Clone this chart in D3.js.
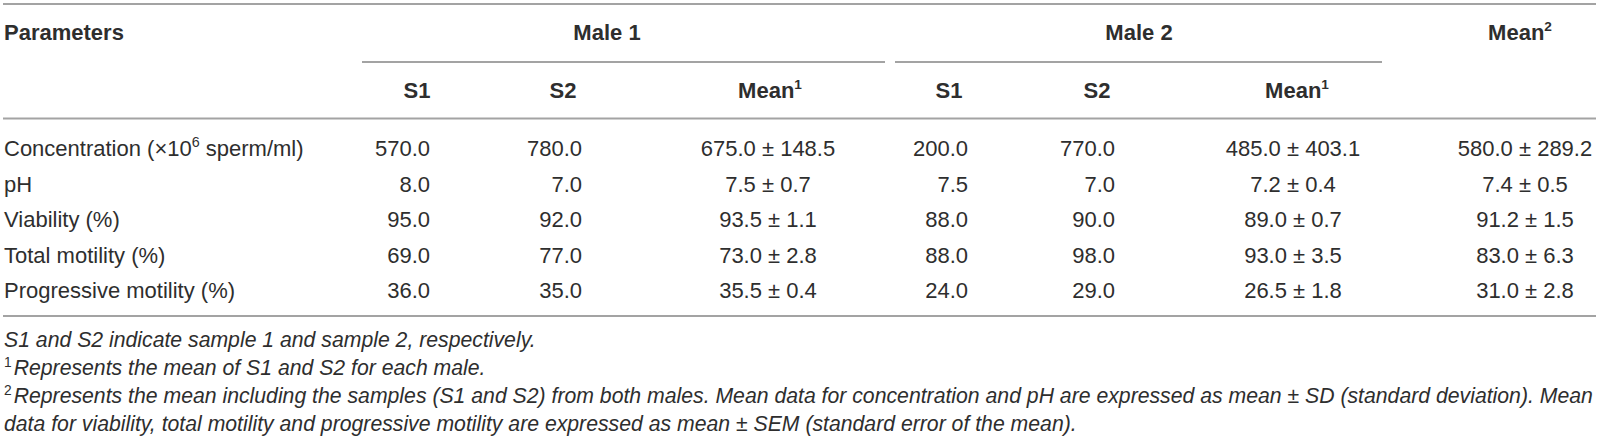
<!DOCTYPE html>
<html>
<head>
<meta charset="utf-8">
<script src="https://cdn.jsdelivr.net/npm/d3@7/dist/d3.min.js"></script>
<style>
  html, body { margin: 0; padding: 0; background: #fff; }
  svg { display: block; }
  text { font-family: "Liberation Sans", Arial, Helvetica, sans-serif; }
</style>
</head>
<body>
<svg id="tbl" width="1600" height="437"></svg>
<script>
// ---------- data ----------
const parameters = ["Concentration", "pH", "Viability (%)", "Total motility (%)", "Progressive motility (%)"];
const male1S1   = [570.0, 8.0, 95.0, 69.0, 36.0];
const male1S2   = [780.0, 7.0, 92.0, 77.0, 35.0];
const male1Mean = [675.0, 7.5, 93.5, 73.0, 35.5];
const male1Err  = [148.5, 0.7, 1.1, 2.8, 0.4];
const male2S1   = [200.0, 7.5, 88.0, 88.0, 24.0];
const male2S2   = [770.0, 7.0, 90.0, 98.0, 29.0];
const male2Mean = [485.0, 7.2, 89.0, 93.0, 26.5];
const male2Err  = [403.1, 0.4, 0.7, 3.5, 1.8];
const allMean   = [580.0, 7.4, 91.2, 83.0, 31.0];
const allErr    = [289.2, 0.5, 1.5, 6.3, 2.8];
const groupLabels = ["Male 1", "Male 2"];
const columnLabels = ["S1", "S2", "Mean", "S1", "S2", "Mean", "Mean"];
const columnSup    = ["", "", "1", "", "", "1", "2"];
const footnotes = [
  {sup: "", text: "S1 and S2 indicate sample 1 and sample 2, respectively."},
  {sup: "1", text: "Represents the mean of S1 and S2 for each male."},
  {sup: "2", text: "Represents the mean including the samples (S1 and S2) from both males. Mean data for concentration and pH are expressed as mean \u00b1 SD (standard deviation). Mean"},
  {sup: "", text: "data for viability, total motility and progressive motility are expressed as mean \u00b1 SEM (standard error of the mean)."}
];

// ---------- layout ----------
const svg = d3.select("#tbl");
const fmt = d3.format(".1f");
const FS = 22;
const ruleColor = "#a3a3a3";
const txt = "#2e2e2e";

const colKeys = ["m1s1", "m1s2", "m1mean", "m2s1", "m2s2", "m2mean", "all"];
const colX = d3.scaleOrdinal().domain(colKeys).range([430, 582, 768, 968, 1115, 1293, 1525]);
const colAnchor = d3.scaleOrdinal().domain(colKeys).range(["end", "end", "middle", "end", "end", "middle", "middle"]);
const headX = d3.scaleOrdinal().domain(colKeys).range([417, 563, 770, 949, 1097, 1297, 1520]);
const rowY = d3.scalePoint().domain(parameters).range([148, 290]);

const columns = [
  {key: "m1s1", vals: male1S1.map(fmt)},
  {key: "m1s2", vals: male1S2.map(fmt)},
  {key: "m1mean", vals: male1Mean.map((m, i) => fmt(m) + " \u00b1 " + fmt(male1Err[i]))},
  {key: "m2s1", vals: male2S1.map(fmt)},
  {key: "m2s2", vals: male2S2.map(fmt)},
  {key: "m2mean", vals: male2Mean.map((m, i) => fmt(m) + " \u00b1 " + fmt(male2Err[i]))},
  {key: "all", vals: allMean.map((m, i) => fmt(m) + " \u00b1 " + fmt(allErr[i]))}
];

// rules
const rules = [{x1: 3, x2: 1596, y: 4}, {x1: 3, x2: 1596, y: 118.5}, {x1: 3, x2: 1596, y: 316}];
svg.selectAll("line.rule").data(rules).join("line").attr("class", "rule")
  .attr("x1", d => d.x1).attr("x2", d => d.x2).attr("y1", d => d.y).attr("y2", d => d.y)
  .attr("stroke", ruleColor).attr("stroke-width", 1.8);

const clines = [{x1: 362, x2: 885, y: 62}, {x1: 895, x2: 1382, y: 62}];
svg.selectAll("line.cline").data(clines).join("line").attr("class", "cline")
  .attr("x1", d => d.x1).attr("x2", d => d.x2).attr("y1", d => d.y).attr("y2", d => d.y)
  .attr("stroke", ruleColor).attr("stroke-width", 1.8);

// header row 1
svg.append("text").attr("x", 4).attr("y", 40).attr("font-size", FS).attr("font-weight", "bold")
  .attr("fill", txt).text("Parameters");
svg.selectAll("text.group").data(groupLabels).join("text").attr("class", "group")
  .attr("x", (d, i) => [607, 1139][i]).attr("y", 40).attr("text-anchor", "middle")
  .attr("font-size", FS).attr("font-weight", "bold").attr("fill", txt).text(d => d);
const m2 = svg.append("text").attr("x", headX("all")).attr("y", 40).attr("text-anchor", "middle")
  .attr("font-size", FS).attr("font-weight", "bold").attr("fill", txt);
m2.append("tspan").text(columnLabels[6]);
m2.append("tspan").attr("font-size", FS * 0.62).attr("dy", -9).text(columnSup[6]);

// header row 2
colKeys.slice(0, 6).forEach((k, i) => {
  const t = svg.append("text").attr("x", headX(k)).attr("y", 98).attr("text-anchor", "middle")
    .attr("font-size", FS).attr("font-weight", "bold").attr("fill", txt);
  t.append("tspan").text(columnLabels[i]);
  if (columnSup[i]) t.append("tspan").attr("font-size", FS * 0.62).attr("dy", -9).text(columnSup[i]);
});

// row labels
svg.selectAll("text.rowlab").data(parameters).join("text").attr("class", "rowlab")
  .attr("x", 4).attr("y", d => rowY(d) + 8).attr("font-size", FS).attr("fill", txt)
  .each(function(d, i) {
    const t = d3.select(this);
    if (i === 0) {
      t.append("tspan").text("Concentration (\u00d710");
      t.append("tspan").attr("font-size", FS * 0.65).attr("dy", -9).text("6");
      t.append("tspan").attr("dy", 9).text(" sperm/ml)");
    } else {
      t.text(d);
    }
  });

// cells
columns.forEach(col => {
  svg.selectAll("text.c-" + col.key).data(col.vals).join("text").attr("class", "c-" + col.key)
    .attr("x", colX(col.key)).attr("y", (d, i) => rowY(parameters[i]) + 8)
    .attr("text-anchor", colAnchor(col.key)).attr("font-size", FS).attr("fill", txt).text(d => d);
});

// footnotes: font size fitted so the long third line spans the table width
const probe = svg.append("text").attr("font-size", 20).attr("font-style", "italic").text(footnotes[2].text);
const probeW = probe.node().getComputedTextLength();
probe.remove();
const FF = 20 * (1594 - 14) / probeW;
const fnY = d3.scalePoint().domain(d3.range(footnotes.length)).range([347, 431]);
svg.selectAll("text.fn").data(footnotes).join("text").attr("class", "fn")
  .attr("x", 4).attr("y", (d, i) => fnY(i)).attr("font-size", FF).attr("fill", txt)
  .each(function(d) {
    const t = d3.select(this);
    if (d.sup) {
      t.append("tspan").attr("font-size", FF * 0.65).attr("dy", -8).text(d.sup);
      t.append("tspan").attr("dy", 8).attr("font-style", "italic").attr("dx", 2).text(d.text);
    } else {
      t.append("tspan").attr("font-style", "italic").text(d.text);
    }
  });
</script>
</body>
</html>
